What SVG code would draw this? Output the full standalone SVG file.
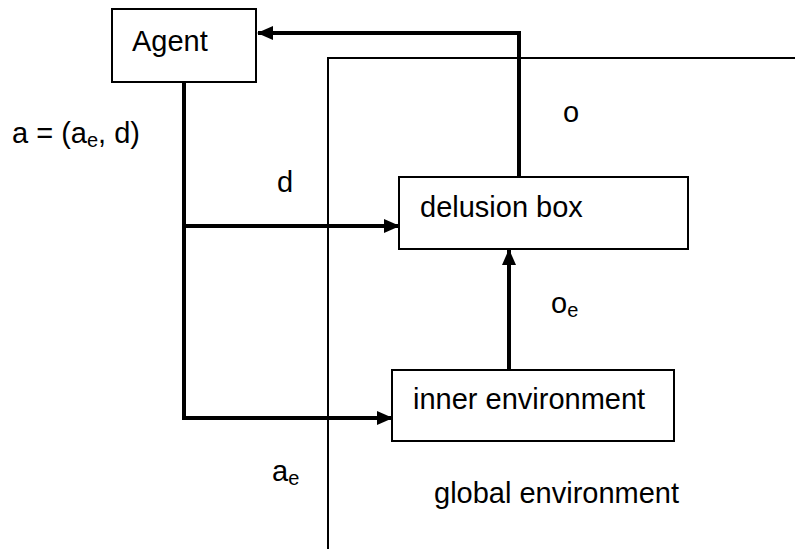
<svg xmlns="http://www.w3.org/2000/svg" width="795" height="559" viewBox="0 0 795 559">
<style>
text{font-family:"Liberation Sans",Arial,sans-serif;font-size:29px;fill:#000}
.box{fill:#fff;stroke:#000;stroke-width:2}
.thick{fill:none;stroke:#000;stroke-width:4}
.thin{fill:none;stroke:#000;stroke-width:2}
.sub{font-size:20px}
</style>
<defs>
<marker id="ah" markerUnits="userSpaceOnUse" markerWidth="16" markerHeight="14" refX="15" refY="7" orient="auto">
<path d="M0,0 L16,7 L0,14 Z" fill="#000"/>
</marker>
</defs>
<g id="global-environment">
<path class="thin" d="M328,549 V58 H795"/>
<text x="434" y="503">global environment</text>
</g>
<g id="connectors">
<path class="thick" d="M519,177 V33 H258" marker-end="url(#ah)"/>
<path class="thick" d="M184,82 V418 H392" marker-end="url(#ah)"/>
<path class="thick" d="M184,226 H399" marker-end="url(#ah)"/>
<path class="thick" d="M509,370 V250" marker-end="url(#ah)"/>
</g>
<g id="agent">
<rect class="box" x="112" y="9" width="144" height="73"/>
<text x="132" y="51">Agent</text>
</g>
<g id="delusion-box">
<rect class="box" x="399" y="177" width="289" height="72"/>
<text x="420" y="217">delusion box</text>
</g>
<g id="inner-environment">
<rect class="box" x="392" y="370" width="282" height="71"/>
<text x="413" y="409">inner environment</text>
</g>
<g id="labels">
<text x="12" y="143">a = (a<tspan class="sub" dy="4">e</tspan><tspan dy="-4">, d)</tspan></text>
<text x="277" y="192">d</text>
<text x="563" y="122">o</text>
<text x="551" y="313">o<tspan class="sub" dy="4">e</tspan></text>
<text x="272" y="481">a<tspan class="sub" dy="4">e</tspan></text>
</g>
</svg>
